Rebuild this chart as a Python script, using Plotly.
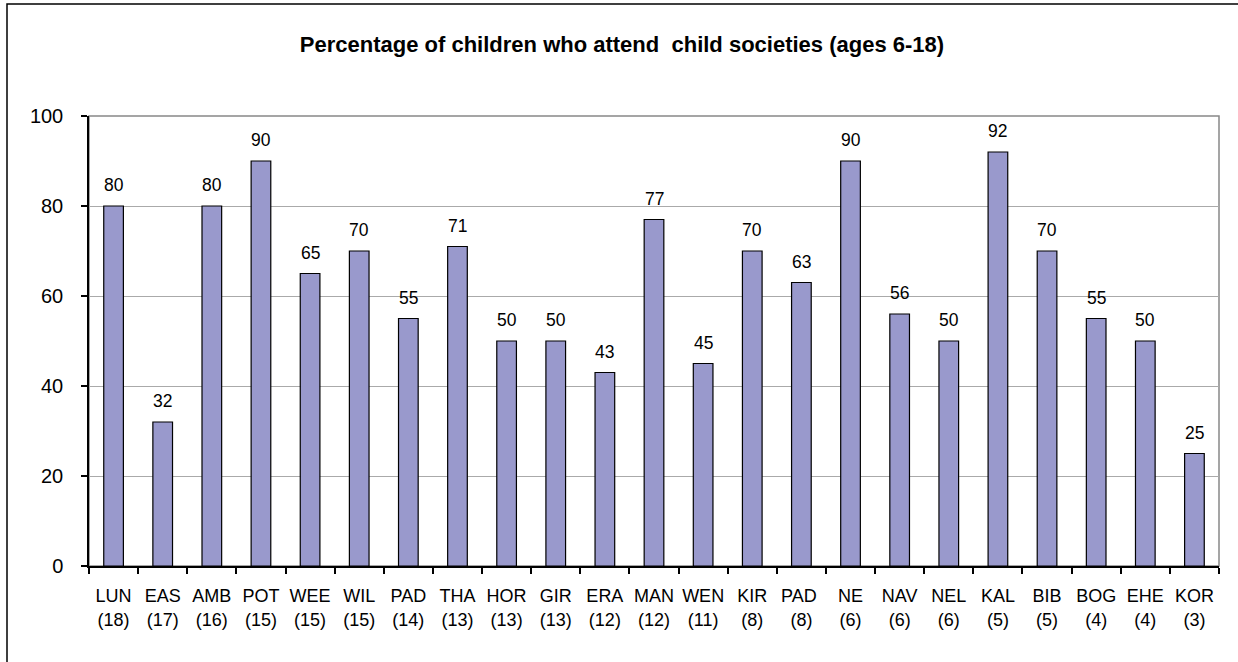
import plotly.graph_objects as go

categories = ["LUN<br>(18)", "EAS<br>(17)", "AMB<br>(16)", "POT<br>(15)", "WEE<br>(15)", "WIL<br>(15)",
              "PAD<br>(14)", "THA<br>(13)", "HOR<br>(13)", "GIR<br>(13)", "ERA<br>(12)", "MAN<br>(12)",
              "WEN<br>(11)", "KIR<br>(8)", "PAD <br>(8)", "NE<br>(6)", "NAV<br>(6)", "NEL<br>(6)",
              "KAL<br>(5)", "BIB<br>(5)", "BOG<br>(4)", "EHE<br>(4)", "KOR<br>(3)"]
values = [80, 32, 80, 90, 65, 70, 55, 71, 50, 50, 43, 77, 45, 70, 63, 90, 56, 50, 92, 70, 55, 50, 25]
y_ticks = [0, 20, 40, 60, 80, 100]
title_text = "Percentage of children who attend  child societies (ages 6-18)"

W, H = 1238, 662
L, R, T, B = 89, 19, 116, 96
pw, ph = W - L - R, H - T - B

fig = go.Figure()
fig.add_trace(go.Bar(
    x=categories, y=values,
    marker=dict(color="#9999CC", line=dict(color="black", width=1.2)),
    hoverinfo="x+y",
))

for c, v in zip(categories, values):
    fig.add_annotation(x=c, y=v, text=str(v), showarrow=False, yanchor="bottom",
                       yshift=9, font=dict(family="Liberation Sans, Arial", size=17.5, color="black"))

def px_x(x):
    return (x - L) / pw

def px_y(y):
    return (H - B - y) / ph

# plot area border (gray)
fig.add_shape(type="rect", xref="paper", yref="paper", x0=0, x1=1, y0=0, y1=1,
              line=dict(color="#888888", width=1.5), layer="below")
# outer frame
fig.add_shape(type="rect", xref="paper", yref="paper", x0=px_x(7), x1=px_x(1245), y0=px_y(670), y1=px_y(4),
              line=dict(color="black", width=1.5), layer="below")

fig.update_layout(
    width=W, height=H,
    margin=dict(l=L, r=R, t=T, b=B),
    paper_bgcolor="white", plot_bgcolor="white",
    showlegend=False,
    bargap=0.6,
    title=dict(text="<b>" + title_text + "</b>", x=(622) / W, xanchor="center", y=1 - 44 / H, yanchor="middle",
               font=dict(family="Liberation Sans, Arial", size=22, color="black")),
    font=dict(family="Liberation Sans, Arial", color="black"),
)
fig.update_xaxes(
    type="category", showline=True, linecolor="black", linewidth=1.5,
    ticks="outside", tickson="boundaries", ticklen=6, tickcolor="black", tickwidth=1.5,
    tickfont=dict(size=18, color="black"), ticklabelstandoff=13, showgrid=False, tickangle=0,
)
fig.update_yaxes(
    range=[0, 100], tickvals=y_ticks, showline=True, linecolor="black", linewidth=1.5,
    ticks="outside", ticklen=6, tickcolor="black", tickwidth=1.5,
    tickfont=dict(size=20, color="black"), ticklabelstandoff=14,
    showgrid=True, gridcolor="#AAAAAA", gridwidth=1, zeroline=False,
)

fig.write_html("out.html", config={"displayModeBar": False},
               post_script="document.body.style.margin='0';document.body.style.overflow='hidden';")
